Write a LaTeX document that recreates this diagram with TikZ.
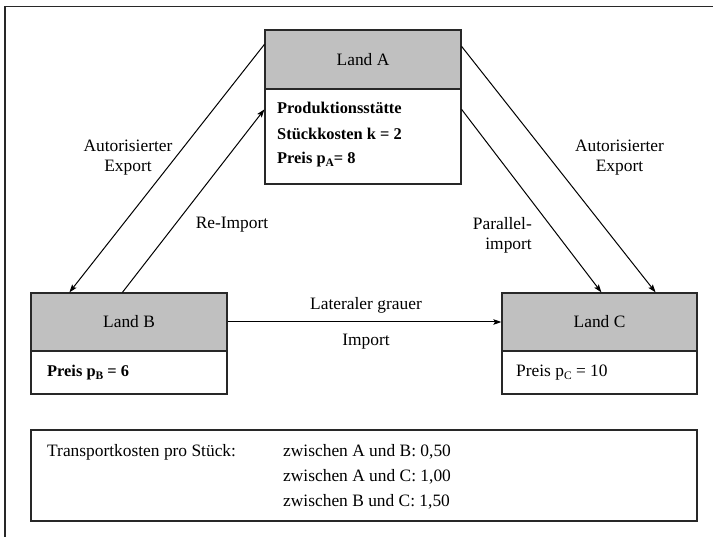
\documentclass[tikz,border=0pt]{standalone}
\usepackage{fontspec}
\setmainfont{Liberation Serif}
\usetikzlibrary{arrows.meta,calc}
\definecolor{boxgray}{RGB}{192,192,192}
\definecolor{framegray}{RGB}{40,40,40}
% lowered index letter, as in p_A
\newcommand{\lowidx}[1]{\raisebox{-0.35ex}{\fontsize{11.5}{11.5}\selectfont #1}}
\tikzset{
  every node/.style={font=\fontsize{17.4}{20}\selectfont, inner sep=0pt},
  header/.style={draw=framegray, line width=1.2pt, fill=boxgray, minimum width=196pt},
  body/.style={draw=framegray, line width=1.2pt, fill=white, minimum width=196pt},
  infobox/.style={draw=framegray, line width=1.2pt, fill=white},
  flow/.style={line width=1pt, -{Stealth[length=8pt,width=5.5pt,inset=1.5pt]}},
  txt/.style={anchor=base west},
  boldtxt/.style={anchor=base west, font=\fontsize{16.4}{20}\selectfont\bfseries},
  lbl/.style={align=center}
}
\begin{document}
\begin{tikzpicture}[x=1pt,y=-1pt]
\useasboundingbox (0,0) rectangle (713,537);
% outer frame (only its left and top edges lie on the page)
\draw[framegray, line width=1.3pt] (5,537) -- (5,6.5) -- (713,6.5);

% Land A
\node[header, minimum height=59pt] (aH) at (363,59.5) {Land A};
\node[body, minimum height=95pt] (aB) at (363,136.5) {};
\node[boldtxt] (a1) at (277,114) {Produktionsstätte};
\node[boldtxt] (a2) at (277,139.5) {Stückkosten k = 2};
\node[boldtxt] (a3) at (277,164) {Preis p\lowidx{A}= 8};

% Land B
\node[header, minimum height=58pt] (bH) at (129,322) {Land B};
\node[body, minimum height=43pt] (bB) at (129,372.5) {};
\node[boldtxt] (b1) at (47,377) {Preis p\lowidx{B} = 6};

% Land C
\node[header, minimum width=195pt, minimum height=58pt] (cH) at (599.5,322) {Land C};
\node[body, minimum width=195pt, minimum height=43pt] (cB) at (599.5,372.5) {};
\node[txt] (c1) at (516,377) {Preis p\lowidx{C} = 10};

% transport costs
\node[infobox, minimum width=666pt, minimum height=91pt] (tk) at (364,475.5) {};
\node[txt] (t0) at (47,457) {Transportkosten pro Stück:};
\node[txt] (t1) at (283,457) {zwischen A und B: 0,50};
\node[txt] (t2) at (283,482) {zwischen A und C: 1,00};
\node[txt] (t3) at (283,507) {zwischen B und C: 1,50};

% flows
\draw[flow] ([yshift=-15pt]aH.north west) -- ([xshift=39pt]bH.north west);
\draw[flow] ([xshift=92pt]bH.north west) -- ([yshift=-21pt]aB.north west);
\draw[flow] ([yshift=-17pt]aH.north east) -- ([xshift=-42pt]cH.north east);
\draw[flow] ([yshift=-21pt]aB.north east) -- ([xshift=100pt]cH.north west);
\draw[flow] (bH.east) -- (cH.west);

% flow labels
\node[lbl] (l1) at (128,158) {Autorisierter\\Export};
\node[lbl] (l2) at (232,225) {Re-Import};
\node[lbl] (l3) at (619.5,158) {Autorisierter\\Export};
\node[lbl, align=right, anchor=east] (l4) at (532,235) {Parallel-\\import};
\node[lbl] (l5) at (366,305) {Lateraler grauer};
\node[lbl] (l6) at (366,342) {Import};
\end{tikzpicture}
\end{document}
